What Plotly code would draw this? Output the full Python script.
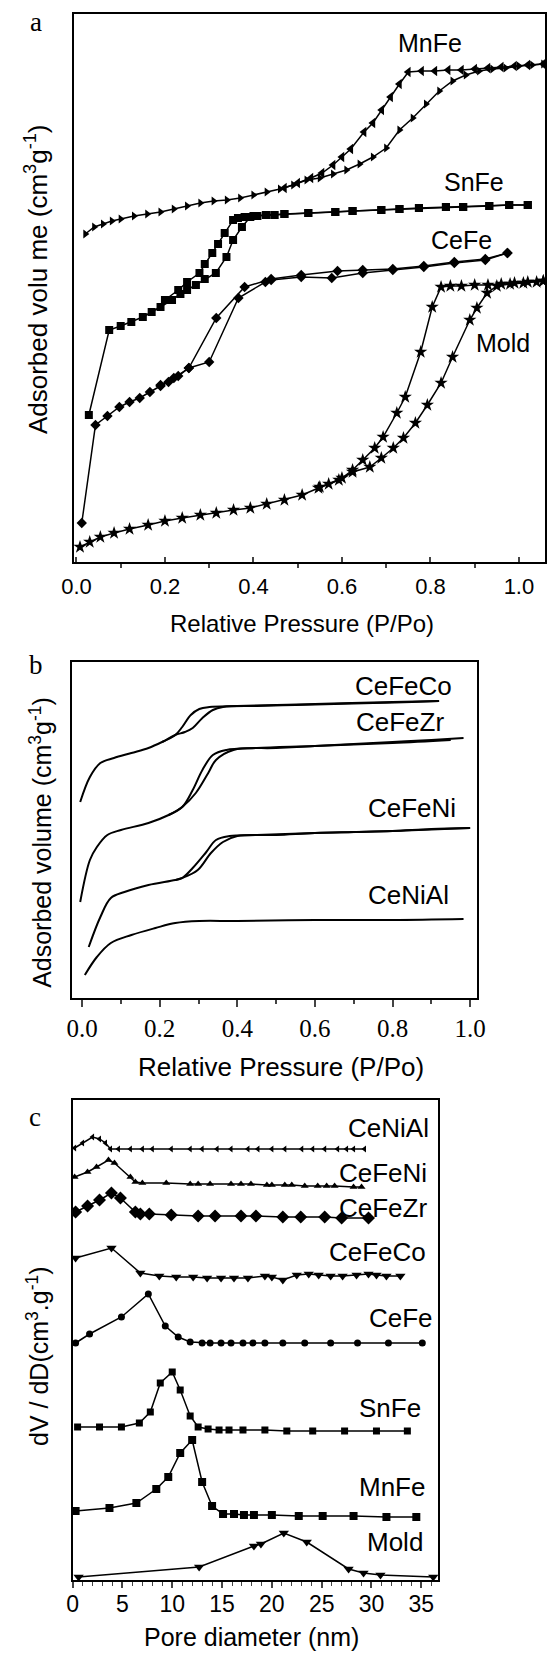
import plotly.graph_objects as go

W, H = 555, 1654

# ---------------- Panel a: N2 isotherms (relative pressure vs adsorbed volume, a.u.) -------------
mnfe_ads_p = [0.02,0.04,0.06,0.08,0.10,0.13,0.16,0.19,0.22,0.25,0.28,0.31,0.34,0.37,0.40,0.43,0.46,0.49,0.52,0.55,
              0.58,0.61,0.64,0.67,0.70,0.73,0.76,0.79,0.82,0.85,0.88,0.91,0.94,0.97,1.00,1.03,1.055]
mnfe_ads_v = [328,335,338,341,343,346,348,350,353,356,359,361,362,364,367,370,373,377,382,384,
              388,392,398,405,414,432,444,458,471,481,487,491,493,494,496,497,498]
mnfe_des_p = [1.055,1.02,0.99,0.96,0.93,0.90,0.87,0.84,0.81,0.78,0.75,0.73,0.71,0.69,0.67,0.65,0.62,0.60,0.58,0.555,0.53,0.50,0.47]
mnfe_des_v = [498,497,496,495,494,493,492,492,491,491,490,478,465,452,439,430,413,405,397,389,384,379,374]

snfe_ads_p = [0.028,0.074,0.10,0.124,0.15,0.17,0.19,0.216,0.235,0.25,0.27,0.29,0.315,0.339,0.354,0.374,0.393,0.409,0.428,0.448,
              0.47,0.524,0.585,0.624,0.689,0.73,0.774,0.835,0.874,0.933,0.978,1.02]
snfe_ads_v = [147,232,236,240,245,250,255,262,268,272,277,283,289,305,322,335,345,346,347,347,
              348,349,350,351,352,353,354,355,355,356,357,357]
snfe_des_p = [1.02,0.978,0.933,0.874,0.835,0.774,0.73,0.689,0.624,0.585,0.524,0.47,0.43,0.40,0.38,0.365,0.354,0.335,0.32,0.307,0.29,0.278,0.25,0.23,0.20]
snfe_des_v = [357,357,356,355,355,354,353,352,351,350,349,348,347,346,345,344,342,329,318,309,298,289,280,272,262]

cefe_ads_p = [0.012,0.043,0.07,0.097,0.12,0.143,0.166,0.19,0.208,0.23,0.254,0.30,0.366,0.427,0.44,0.508,0.577,0.647,0.715,0.785,0.854,0.924,0.974]
cefe_ads_v = [39,137,146,155,160,164,170,176,180,186,194,200,264,280,282,285,284,289,292,295,299,302,309]
cefe_des_p = [0.974,0.924,0.854,0.785,0.715,0.647,0.59,0.508,0.44,0.38,0.316,0.254,0.22,0.19]
cefe_des_v = [309,303,300,296,293,292,291,287,283,275,244,194,184,177]

mold_ads_p = [0.008,0.03,0.054,0.085,0.12,0.162,0.20,0.239,0.28,0.316,0.355,0.393,0.43,0.47,0.51,0.547,0.593,0.624,0.663,0.689,
              0.716,0.739,0.766,0.793,0.824,0.85,0.889,0.905,0.928,0.95,0.98,1.01,1.04,1.055]
mold_ads_v = [15,20,25,29,33,37,41,44,47,49,52,54,58,62,67,74,82,90,95,104,
              114,124,139,157,179,205,242,254,269,276,278,279,280,281]
mold_des_p = [1.055,1.02,0.99,0.96,0.93,0.90,0.87,0.845,0.824,0.804,0.778,0.743,0.724,0.693,0.674,0.647,0.624,0.60,0.57,0.55]
mold_des_v = [281,280,279,278,277,277,276,276,275,255,210,165,149,125,114,102,92,84,78,75]

# ---------------- Panel b: isotherms without markers -------------
cefeco_ads_p = [-0.005,0.02,0.047,0.082,0.127,0.171,0.206,0.24,0.265,0.285,0.31,0.337,0.363,0.45,0.55,0.65,0.75,0.85,0.92]
cefeco_ads_v = [196,221,235,240,245,250,256,263,266,270,280,288,291,292,293,294,295,296,297]
cefeco_des_p = [0.92,0.80,0.60,0.40,0.328,0.302,0.28,0.258,0.24,0.206]
cefeco_des_v = [297,296,294,292,291,289,283,271,263,256]

cefezr_ads_p = [-0.005,0.02,0.038,0.065,0.10,0.171,0.223,0.258,0.293,0.325,0.345,0.39,0.50,0.60,0.70,0.80,0.90,0.983]
cefezr_ads_v = [96,138,151,163,168,175,183,191,205,225,238,248,250,252,254,256,258,260]
cefezr_des_p = [0.95,0.80,0.60,0.45,0.372,0.337,0.31,0.285,0.258,0.223]
cefezr_des_v = [258,255,252,250,248,243,228,208,191,183]

cefeni_ads_p = [0.017,0.047,0.074,0.109,0.171,0.24,0.258,0.298,0.332,0.363,0.40,0.50,0.60,0.70,0.80,0.90,1.0]
cefeni_ads_v = [51,81,100,106,113,118,120,128,145,156,162,163,165,166,167,169,170]
cefeni_des_p = [1.0,0.80,0.60,0.45,0.38,0.345,0.32,0.285,0.258,0.24]
cefeni_des_v = [170,167,165,163,162,158,146,130,120,118]

ceniai_p = [0.007,0.038,0.074,0.127,0.189,0.24,0.302,0.40,0.60,0.80,0.983]
ceniai_v = [23,41,55,63,70,75,77,77,78,78,79]

# ---------------- Panel c: pore size distributions -------------
c_ceniai_d = [0.2,1.0,2.0,2.7,3.3,3.8,4.6,5.8,7.0,8.0,9.9,11.8,13.0,14.5,15.9,17.6,18.6,20.0,21.3,23.0,24.1,25.3,26.6,27.5,28.2,29.3]
c_ceniai_v = [432,437,443,441,437,431,431,431,431,431,431,431,431,431,431,431,431,431,431,431,431,431,431,431,431,431]
c_cefeni_d = [0.2,1.5,2.4,3.6,4.2,5.8,6.3,7.0,9.4,11.8,12.6,13.8,15.9,16.9,17.9,19.5,20.0,21.3,22.0,23.3,24.6,25.5,26.3,28.2,29.0]
c_cefeni_v = [403,408,413,420,417,403,398,397,397,396,396,396,396,396,396,395,395,395,395,394,394,394,394,393,393]
c_cefezr_d = [0.3,1.5,2.7,3.9,4.8,6.3,6.8,7.7,9.9,12.6,14.3,16.9,18.4,21.1,22.9,25.3,27.0,29.7]
c_cefezr_v = [368,374,380,387,382,368,366,366,365,364,364,364,364,363,363,363,362,362]
c_cefeco_d = [0.3,3.9,6.8,8.7,10.4,12.1,13.5,14.9,16.2,17.6,19.3,20.0,21.1,22.5,23.7,24.7,25.9,27.1,28.5,29.7,30.5,31.5,32.9]
c_cefeco_v = [322,332,307,304,303,303,302,302,302,302,304,303,300,305,306,305,304,304,305,306,305,304,304]
c_cefe_d = [0.3,1.7,4.9,7.6,9.3,10.6,11.8,13.0,13.8,14.9,15.9,17.1,18.1,19.3,21.1,23.3,25.9,28.6,31.7,35.1]
c_cefe_v = [237,246,263,286,254,243,238,237,237,237,237,237,237,237,237,237,237,237,237,237]
c_snfe_d = [0.5,2.7,4.9,6.7,7.8,8.8,10.0,10.8,11.8,12.6,13.6,14.7,15.7,17.1,19.3,21.5,24.1,27.3,30.5,33.6]
c_snfe_v = [153,153,153,157,168,197,208,190,164,153,151,150,150,150,150,149,149,149,149,149]
c_mnfe_d = [0.3,3.7,6.4,8.4,9.6,10.8,12.0,13.0,14.0,15.1,16.2,17.2,18.2,20.0,22.7,25.1,28.2,31.5,34.5]
c_mnfe_v = [69,72,77,91,103,127,140,98,74,66,66,65,65,65,64,64,64,63,63]
c_mold_d = [0.6,12.7,18.2,18.9,21.2,23.5,27.7,29.2,30.9,36.2]
c_mold_v = [3,13,34,36,47,38,11,7,5,3]

# labels
a_labels = ["MnFe", "SnFe", "CeFe", "Mold"]
a_lab_x = [0.798, 0.898, 0.870, 0.963]
a_lab_y = [519, 380, 322, 219]
b_labels = ["CeFeCo", "CeFeZr", "CeFeNi", "CeNiAl"]
b_lab_x = [0.829, 0.819, 0.851, 0.841]
b_lab_y = [312, 276, 190, 103]
c_labels = ["CeNiAl", "CeFeNi", "CeFeZr", "CeFeCo", "CeFe", "SnFe", "MnFe", "Mold"]
c_lab_x = [31.7, 31.2, 31.2, 30.6, 33.0, 31.9, 32.1, 32.4]
c_lab_y = [452, 407, 372, 328, 262, 172, 93, 38]

SANS = "Liberation Sans, Arial, sans-serif"
SERIF = "Liberation Serif, Times New Roman, serif"

fig = go.Figure()

def add(x, y, xa, ya, symbol=None, size=7, mode="lines+markers", shape="linear", lw=1.5):
    kw = dict(x=x, y=y, xaxis=xa, yaxis=ya, mode=mode, showlegend=False,
              line=dict(color="black", width=lw, shape=shape))
    if symbol:
        kw["marker"] = dict(symbol=symbol, size=size, color="black", line=dict(width=0))
    fig.add_trace(go.Scatter(**kw))

# panel a
add(mnfe_ads_p, mnfe_ads_v, "x", "y", "triangle-right", 8)
add(mnfe_des_p, mnfe_des_v, "x", "y", "triangle-left", 9)
add(snfe_ads_p, snfe_ads_v, "x", "y", "square", 8)
add(snfe_des_p, snfe_des_v, "x", "y", "square", 8)
add(cefe_ads_p, cefe_ads_v, "x", "y", "diamond", 8)
add(cefe_des_p, cefe_des_v, "x", "y", "diamond", 8)
add(mold_ads_p, mold_ads_v, "x", "y", "star", 10)
add(mold_des_p, mold_des_v, "x", "y", "star", 10)

# panel b
for px, py in [(cefeco_ads_p, cefeco_ads_v), (cefeco_des_p, cefeco_des_v),
               (cefezr_ads_p, cefezr_ads_v), (cefezr_des_p, cefezr_des_v),
               (cefeni_ads_p, cefeni_ads_v), (cefeni_des_p, cefeni_des_v),
               (ceniai_p, ceniai_v)]:
    add(px, py, "x2", "y2", mode="lines", shape="spline", lw=2)

# panel c
add(c_ceniai_d, c_ceniai_v, "x3", "y3", "triangle-left", 6)
add(c_cefeni_d, c_cefeni_v, "x3", "y3", "triangle-up", 7)
add(c_cefezr_d, c_cefezr_v, "x3", "y3", "diamond", 10)
add(c_cefeco_d, c_cefeco_v, "x3", "y3", "triangle-down", 9)
add(c_cefe_d, c_cefe_v, "x3", "y3", "circle", 7)
add(c_snfe_d, c_snfe_v, "x3", "y3", "square", 7)
add(c_mnfe_d, c_mnfe_v, "x3", "y3", "square", 8)
add(c_mold_d, c_mold_v, "x3", "y3", "triangle-down", 9)

annotations = []
for t, x, y in zip(a_labels, a_lab_x, a_lab_y):
    annotations.append(dict(text=t, x=x, y=y, xref="x", yref="y", showarrow=False,
                            font=dict(family=SANS, size=25, color="black")))
for t, x, y in zip(b_labels, b_lab_x, b_lab_y):
    annotations.append(dict(text=t, x=x, y=y, xref="x2", yref="y2", showarrow=False,
                            font=dict(family=SANS, size=26, color="black")))
for t, x, y in zip(c_labels, c_lab_x, c_lab_y):
    annotations.append(dict(text=t, x=x, y=y, xref="x3", yref="y3", showarrow=False,
                            font=dict(family=SANS, size=26, color="black")))

def pa(text, px, py, size, family=SANS, angle=0):
    annotations.append(dict(text=text, x=px / W, y=1 - py / H, xref="paper", yref="paper",
                            showarrow=False, textangle=angle, xanchor="center", yanchor="middle",
                            font=dict(family=family, size=size, color="black")))

pa("a", 25, 22, 27, SERIF)
pa("b", 25, 665, 27, SERIF)
pa("c", 24, 1117, 27, SERIF)
pa("Relative Pressure (P/Po)", 301, 623, 24)
pa("Relative Pressure (P/Po)", 280, 1067, 26)
pa("Pore diameter (nm)", 249, 1637, 25)
pa("Adsorbed volu me (cm<sup>3</sup>g<sup>-1</sup>)", 25, 279, 26, angle=-90)
pa("Adsorbed volume (cm<sup>3</sup>g<sup>-1</sup>)", 30, 842, 25, angle=-90)
pa("dV / dD(cm<sup>3</sup>.g<sup>-1</sup>)", 27, 1356, 25, angle=-90)

def yax(top, bottom, rng, anchor):
    return dict(domain=[1 - bottom / H, 1 - top / H], range=rng, anchor=anchor,
                showticklabels=False, ticks="", showgrid=False, zeroline=False,
                showline=True, mirror=True, linecolor="black", linewidth=2, fixedrange=True)

p_ticks = [0.0, 0.2, 0.4, 0.6, 0.8, 1.0]
p_text = ["0.0", "0.2", "0.4", "0.6", "0.8", "1.0"]
d_ticks = [0, 5, 10, 15, 20, 25, 30, 35]

fig.update_layout(
    width=W, height=H, autosize=False,
    margin=dict(l=0, r=0, t=0, b=0),
    paper_bgcolor="white", plot_bgcolor="white",
    showlegend=False,
    annotations=annotations,
    xaxis=dict(domain=[64 / W, 554 / W], range=[-0.0065, 1.059], anchor="y",
               tickvals=p_ticks, ticktext=p_text, ticks="inside", ticklen=5, tickwidth=1.5,
               minor=dict(tickvals=[0.1, 0.3, 0.5, 0.7, 0.9], ticks="outside", ticklen=4, tickwidth=1.5),
               tickfont=dict(family=SANS, size=22, color="black"), ticklabelstandoff=4,
               showgrid=False, zeroline=False, showline=True, mirror=True,
               linecolor="black", linewidth=2, fixedrange=True),
    yaxis=yax(14, 562, [0, 548], "x"),
    xaxis2=dict(domain=[62 / W, 483 / W], range=[-0.027, 1.017], anchor="y2",
                tickvals=p_ticks, ticktext=p_text, ticks="outside", ticklen=7, tickwidth=1.5,
                minor=dict(tickvals=[0.1, 0.3, 0.5, 0.7, 0.9], ticks="outside", ticklen=4, tickwidth=1.5),
                tickfont=dict(family=SERIF, size=25, color="black"),
                showgrid=False, zeroline=False, showline=True, mirror=True,
                linecolor="black", linewidth=2, fixedrange=True),
    yaxis2=yax(662, 998, [0, 336], "x2"),
    xaxis3=dict(domain=[63 / W, 443 / W], range=[0, 36.7], anchor="y3",
                tickvals=d_ticks, ticks="outside", ticklen=6, tickwidth=1.5,
                minor=dict(dtick=1, ticks="outside", ticklen=4, tickwidth=1.2),
                tickfont=dict(family=SANS, size=23, color="black"), ticklabelstandoff=-4,
                showgrid=False, zeroline=False, showline=True, mirror=True,
                linecolor="black", linewidth=2, fixedrange=True),
    yaxis3=yax(1100, 1580, [0, 480], "x3"),
)

fig.write_html("out.html")
